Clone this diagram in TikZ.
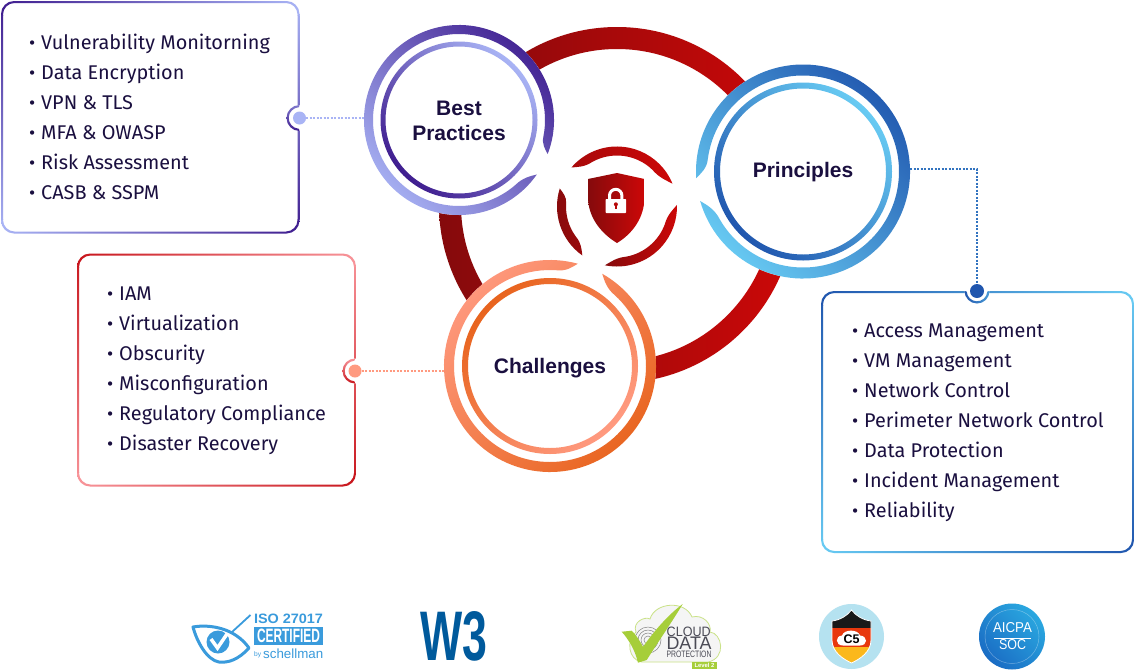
\documentclass[tikz,border=0pt]{standalone}
\usepackage{fontspec}
\usepackage{graphicx}
\setmainfont{Fira Sans}
\newfontfamily\titlef{Liberation Sans}
\definecolor{ink}{HTML}{1A0F3F}
\definecolor{purD}{HTML}{3F1D8F}
\definecolor{purL}{HTML}{A9B4F5}
\definecolor{bluD}{HTML}{2056AE}
\definecolor{bluL}{HTML}{68CBF3}
\definecolor{oraD}{HTML}{E8641E}
\definecolor{oraL}{HTML}{FF9A80}
\definecolor{redD}{HTML}{850A0C}
\definecolor{redL}{HTML}{CC0808}
\definecolor{boxR}{HTML}{C8161D}
\definecolor{boxP}{HTML}{F8959A}
\definecolor{isoB}{HTML}{3A9BDC}
\definecolor{wthree}{HTML}{005A9C}
\definecolor{leaf}{HTML}{A6CE39}
\definecolor{soft}{HTML}{4A4A55}
\definecolor{cfiveBg}{HTML}{B5E2F0}
\definecolor{cfiveRed}{HTML}{E8380D}
\definecolor{cfiveGold}{HTML}{FBB81C}
\definecolor{socD}{HTML}{1A6CC4}
\definecolor{socL}{HTML}{2AA8E0}
\newcommand\taperring[9]{%
  \pgfmathsetmacro\tRi{#3-#4}%
  \pgfmathsetmacro\tAa{#5+#7}%
  \pgfmathsetmacro\tAb{#6-#8}%
  \pgfmathsetmacro\tCaA{#5+0.5*#7}%
  \pgfmathsetmacro\tCaB{#5+0.22*#7}%
  \pgfmathsetmacro\tCbA{#6-0.22*#8}%
  \pgfmathsetmacro\tCbB{#6-0.5*#8}%
  \pgfmathsetmacro\tRm{#3-0.45*#4}%
  \shade[shift={(#1,#2)},#9] (#5:#3pt) arc[start angle=#5,end angle=#6,radius=#3pt]
    .. controls (\tCbA:\tRm pt) and (\tCbB:\tRi pt) .. (\tAb:\tRi pt)
    arc[start angle=\tAb,end angle=\tAa,radius=\tRi pt]
    .. controls (\tCaA:\tRi pt) and (\tCaB:\tRm pt) .. (#5:#3pt) -- cycle;
}
\newcommand\fullring[5]{%
  \shade[even odd rule,#5] (#1,#2) circle[radius=#3pt] (#1,#2) circle[radius=#4pt];
}
\newcommand\gradbox[8]{%
  \begin{scope}\clip (#1,#2) rectangle (#3,#2+14);
    \shade[even odd rule,left color=#5,right color=#6] [rounded corners=13pt] (#1,#2) rectangle (#3,#4) [rounded corners=11.5pt] (#1+2,#2+2) rectangle (#3-2,#4-2);
  \end{scope}
  \begin{scope}\clip (#1,#4-14) rectangle (#3,#4);
    \shade[even odd rule,left color=#8,right color=#7] [rounded corners=13pt] (#1,#2) rectangle (#3,#4) [rounded corners=11.5pt] (#1+2,#2+2) rectangle (#3-2,#4-2);
  \end{scope}
  \begin{scope}\clip (#1,#2+14) rectangle (#1+14,#4-14);
    \shade[even odd rule,top color=#5,bottom color=#8] [rounded corners=13pt] (#1,#2) rectangle (#3,#4) [rounded corners=11.5pt] (#1+2,#2+2) rectangle (#3-2,#4-2);
  \end{scope}
  \begin{scope}\clip (#3-14,#2+14) rectangle (#3,#4-14);
    \shade[even odd rule,top color=#6,bottom color=#7] [rounded corners=13pt] (#1,#2) rectangle (#3,#4) [rounded corners=11.5pt] (#1+2,#2+2) rectangle (#3-2,#4-2);
  \end{scope}
}
\newcommand\bl{\makebox[12pt][l]{\raisebox{0pt}{\fontsize{19}{19}\selectfont•}}}
\tikzset{
  listtext/.style={anchor=west,align=left,text=ink,inner sep=0pt,font=\fontsize{19.85}{30}\selectfont},
  titletext/.style={circle,align=center,text=ink,inner sep=0pt,font=\titlef\bfseries\fontsize{21}{25}\selectfont},
  dotnode/.style={circle,inner sep=0pt,minimum size=#1},
  dotline/.style={line width=1.8pt,dash pattern=on 1.8pt off 1.7pt},
  logotext/.style={inner sep=0pt,font=\titlef}
}
\begin{document}
\begin{tikzpicture}[x=1pt,y=-1pt]
\useasboundingbox (0,0) rectangle (1135,670);
\fill[white] (0,0) rectangle (1135,670);
% big ring
\shade[even odd rule,left color=redD,right color=redL] (617,205) circle[radius=178pt] (617,205) circle[radius=156pt];
\fill[white] (459,120) circle[radius=95pt] (803,171.5) circle[radius=107pt] (550,366) circle[radius=106pt];
% title nodes
\node[titletext,minimum size=190pt] (best) at (459,121) {Best\\Practices};
\node[titletext,minimum size=214pt] (prin) at (803,172.5) {Principles};
\node[titletext,minimum size=212pt] (chal) at (550,368) {Challenges};
% best rings
\taperring{459}{120}{95}{9}{-21}{325}{10}{14}{top color=purD,bottom color=purL,shading angle=-45}
\fullring{459}{120}{78.5}{73.5}{top color=purL,bottom color=purD,shading angle=-45}
% principles rings
\taperring{803}{171.5}{107}{11}{196}{183.5+360}{14}{11}{top color=bluD,bottom color=bluL,shading angle=-45}
\fullring{803}{171.5}{89}{83}{top color=bluL,bottom color=bluD,shading angle=-45}
% challenges rings
\taperring{550}{366}{106}{10}{74.8}{60.5+360}{11}{13}{top color=oraL,bottom color=oraD,shading angle=45}
\fullring{550}{366}{88}{82}{top color=oraD,bottom color=oraL,shading angle=45}
% centre arcs
\taperring{617}{206.5}{60}{9}{22.4}{139.4}{24}{20}{left color=redD!50!redL,right color=redL}
\taperring{617}{206.5}{60}{9}{-101.6}{1.5}{22}{22}{left color=redD,right color=redL}
\taperring{617}{206.5}{60}{9}{162.5}{234.7}{14}{18}{left color=redD,right color=redD!70!redL}
% shield
\shade[left color=redD,right color=redL] (617,173) -- (644.5,179) -- (644.5,197) .. controls (644.5,218) and (632,234) .. (617,243) .. controls (602,234) and (588,218) .. (588,197) -- (588,179) -- cycle;
\draw[white,line width=3pt] (609.5,200) -- (609.5,195.5) arc[start angle=180,end angle=0,radius=6.2pt] -- (621.9,200);
\fill[white,rounded corners=0.6pt] (605.7,199) rectangle (626,213);
\fill[redL!70!redD] (615.9,204.3) circle[radius=2pt];
\fill[redL!70!redD] (614.9,204.5) rectangle (616.9,209);
% boxes
\gradbox{1}{1}{299.5}{233.5}{purD}{purL}{purD}{purL}
\gradbox{77}{253.5}{356}{486.5}{boxR}{boxP}{boxR}{boxP}
\gradbox{821}{291}{1134}{553}{bluD}{bluL}{bluD}{bluL}
% notches and dots
\fill[white] (299.5,118) circle[radius=13pt];
\taperring{299.5}{118}{13}{2.2}{90}{270}{4}{4}{top color=purL!60!purD,bottom color=purD}
\node[dotnode=13pt,fill=purL] (dotA) at (299.5,118) {};
\fill[white] (355,371) circle[radius=12.5pt];
\taperring{355}{371}{12.5}{2.2}{90}{270}{4}{4}{top color=boxP,bottom color=boxR}
\node[dotnode=13pt,fill=oraL] (dotB) at (355,371) {};
\fill[white] (977,291) circle[radius=12.5pt];
\taperring{977}{291}{12.5}{2.2}{180}{360}{4}{4}{left color=bluD,right color=bluL!60!bluD}
\node[dotnode=14pt,fill=bluD] (dotC) at (977,291) {};
% connectors
\draw[dotline,purL] (dotA.east) -- (dotA -| best.west);
\draw[dotline,oraL] (dotB.east) -- (dotB -| chal.west);
\coordinate (elbow) at (977,169);
\draw[dotline,bluD!75!bluL] (prin.east |- elbow) -- (elbow) -- (dotC.north);
% texts
\node[listtext] (listA) at (29,117) {\bl Vulnerability Monitorning\\\bl Data Encryption\\\bl VPN \& TLS\\\bl MFA \& OWASP\\\bl Risk Assessment\\\bl CASB \& SSPM};
\node[listtext] (listB) at (107,371) {\bl IAM\\\bl Virtualization\\\bl Obscurity\\\bl Misconfiguration\\\bl Regulatory Compliance\\\bl Disaster Recovery};
\node[listtext] (listC) at (852,423) {\bl Access Management\\\bl VM Management\\\bl Network Control\\\bl Perimeter Network Control\\\bl Data Protection\\\bl Incident Management\\\bl Reliability};
% ISO logo
\draw[isoB,line width=3pt,line join=round] (193,627) .. controls (210,624) and (235,628) .. (249,648) .. controls (238,660) and (228,663) .. (219,662) .. controls (207,660) and (197,642) .. (193,627) -- cycle;
\draw[isoB,line width=1.8pt] (232,632) -- (250.5,615);
\fill[isoB] (218,642) circle[radius=11.5pt];
\draw[white,line width=3.5pt] (211,639) -- (217.5,648) -- (227,634);
\node[logotext,text=isoB] (isoA) at (288.5,619) {\resizebox{69pt}{9.5pt}{\bfseries ISO 27017}};
\node[fill=isoB,minimum width=69pt,minimum height=18.5pt,inner sep=0pt] (isoBox) at (288.5,636) {};
\node[logotext,text=white] (isoC) at (288.5,636) {\resizebox{63pt}{13.5pt}{\bfseries CERTIFIED}};
\node[logotext,text=isoB,anchor=west] (isoD) at (254,655) {\resizebox{7pt}{!}{by}};
\node[logotext,text=isoB,anchor=west] (isoE) at (263,654) {\resizebox{60pt}{!}{schellman}};
% W3
\node[logotext,text=wthree] (wlogo) at (454,636.5) {\resizebox{67pt}{49pt}{\bfseries W3}};
% Cloud logo
\draw[leaf!60,fill=black!4,line width=0.8pt] (642,662) .. controls (628,660) and (626,640) .. (636,632) .. controls (632,622) and (645,616) .. (650,619) .. controls (655,602) and (685,600) .. (692,617) .. controls (703,614) and (712,624) .. (710,632) .. controls (722,633) and (727,658) .. (708,662) -- cycle;
\foreach \rr in {4,7,10,13} \draw[black!50,line width=0.5pt] (648,640) circle[radius=\rr pt];
\fill[leaf] (621.7,631.7) -- (631.7,630.7) .. controls (636,635) and (640,641) .. (643,646.7) .. controls (655,630) and (668,615) .. (682.7,604) .. controls (672,622) and (658,642) .. (646.7,660) -- (638,662.7) .. controls (635,650) and (629,640) .. (621.7,631.7) -- cycle;
\node[logotext,text=soft] (cloudA) at (688.7,631.7) {\resizebox{44pt}{9.5pt}{CLOUD}};
\node[logotext,text=soft] (cloudB) at (689,643.5) {\resizebox{45pt}{12.5pt}{DATA}};
\node[logotext,text=soft] (cloudC) at (689,654.5) {\resizebox{45pt}{6.5pt}{PROTECTION}};
\node[fill=leaf,minimum width=25.5pt,minimum height=7.5pt,inner sep=0pt,logotext,text=white] (cloudD) at (704.5,665.5) {\resizebox{20pt}{!}{\bfseries Level 2}};
% C5 logo
\fill[cfiveBg] (851.5,636.5) circle[radius=32.5pt];
\begin{scope}
\clip (851.5,610) .. controls (856,616) and (863,620) .. (871,621) -- (871,640) .. controls (871,652) and (860,659) .. (851.5,663) .. controls (843,659) and (832,652) .. (832,640) -- (832,621) .. controls (840,620) and (847,616) .. (851.5,610) -- cycle;
\fill[black!90] (825,605) rectangle (880,628);
\fill[cfiveRed] (825,628) rectangle (880,647);
\fill[cfiveGold] (825,647) rectangle (880,668);
\end{scope}
\draw[white,line width=0.8pt] (851.5,610) .. controls (856,616) and (863,620) .. (871,621) -- (871,640) .. controls (871,652) and (860,659) .. (851.5,663) .. controls (843,659) and (832,652) .. (832,640) -- (832,621) .. controls (840,620) and (847,616) .. (851.5,610) -- cycle;
\fill[white] (843,645.5) .. controls (835,645.5) and (835,636) .. (842,635.5) .. controls (844,629) and (858,629) .. (860,635.5) .. controls (868,636) and (868,645.5) .. (860,645.5) -- cycle;
\node[logotext,text=black] (cfive) at (851.5,639.5) {\fontsize{12.5}{13}\selectfont\bfseries C5};
% AICPA logo
\shade[left color=socD,right color=socL,shading angle=135] (1012,636.5) circle[radius=33pt];
\draw[white,opacity=0.35,line width=0.5pt] (1012,636.5) circle[radius=27pt];
\node[logotext,text=white] (aicpa) at (1012.5,628) {\resizebox{39pt}{10pt}{AICPA}};
\draw[white,line width=0.6pt] (994,638.7) -- (1031,638.7);
\node[logotext,text=white] (soc) at (1012.5,645) {\resizebox{27pt}{10pt}{SOC}};
\end{tikzpicture}
\end{document}
